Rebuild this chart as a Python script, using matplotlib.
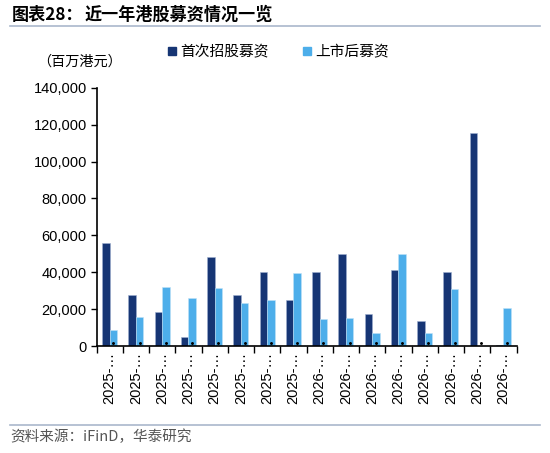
import numpy as np
import matplotlib.pyplot as plt
from matplotlib.lines import Line2D

plt.rcParams['font.family'] = ['Noto Sans CJK SC', 'DejaVu Sans']

# 数据（百万港元）
labels = ['2025-…'] * 8 + ['2026-…'] * 8
ipo = [56000, 27500, 18400, 4700, 48200, 27500, 40300, 24900,
       40300, 49900, 17200, 41000, 13400, 40000, 115600, 300]
follow_on = [8800, 15500, 32000, 26200, 31300, 23300, 24900, 39600,
             14500, 15000, 6900, 50000, 6900, 30700, 0, 20400]
dot_vals = [1600] * 16
yticks = [0, 20000, 40000, 60000, 80000, 100000, 120000, 140000]

c_dark = '#163574'
c_light = '#4daeea'

fig = plt.figure(figsize=(5.5, 4.53), dpi=100)
ax = fig.add_axes([96.5/550, 1-346/453, 420/550, (346-87.7)/453])

x = np.arange(len(labels))
w = 0.29
ax.bar(x - w/2, ipo, w, color=c_dark, edgecolor='#9fb0cf', linewidth=0.4)
ax.bar(x + w/2, follow_on, w, color=c_light, edgecolor='#bfe2f7', linewidth=0.4)
ax.scatter(x + w/2, dot_vals, s=1.2, color='black', zorder=3)

ax.set_xlim(-0.5, len(labels) - 0.5)
ax.set_ylim(0, 140000)
ax.set_yticks(yticks)
ax.set_yticklabels([f'{v:,}' for v in yticks], family='Liberation Sans', fontsize=10.5)
ax.tick_params(axis='y', direction='out', length=4, width=1, pad=3)

ax.set_xticks(x)
ax.set_xticklabels(labels, rotation=90, family=['Liberation Sans', 'DejaVu Sans'], fontsize=10.5)
ax.set_xticks(np.arange(-0.5, len(labels)), minor=True)
ax.tick_params(axis='x', which='major', length=0, pad=4)
ax.tick_params(axis='x', which='minor', length=5, width=1, direction='out')

ax.spines['top'].set_visible(False)
ax.spines['right'].set_visible(False)
ax.spines['left'].set_linewidth(1.2)
ax.spines['bottom'].set_linewidth(1.2)

# 图例
handles = [Line2D([], [], marker='s', linestyle='none', color=c_dark, markersize=6),
           Line2D([], [], marker='s', linestyle='none', color=c_light, markersize=6)]
fig.legend(handles, ['首次招股募资', '上市后募资'], loc='center left',
           bbox_to_anchor=(168/550, 1-52/453), ncol=2, frameon=False,
           fontsize=10.6, handlelength=0.5, handletextpad=0.3, columnspacing=2.4,
           borderaxespad=0, borderpad=0)

fig.text(37/550, 1-62/453, '（百万港元）', fontsize=10.2, va='center', ha='left')

# 标题与来源
fig.text(12/550, 1-15/453, '图表28：', fontsize=12.3, fontweight='bold', va='center', ha='left')
fig.text(85/550, 1-15/453, '近一年港股募资情况一览', fontsize=12.3, fontweight='bold', va='center', ha='left')
fig.add_artist(Line2D([10/550, 540/550], [1-26/453, 1-26/453], color='#aab8cc', linewidth=1.2))
fig.add_artist(Line2D([10/550, 540/550], [1-425/453, 1-425/453], color='#aab8cc', linewidth=1.2))
fig.text(10/550, 1-437/453, '资料来源：iFinD，华泰研究', fontsize=10.5, color='#555555', va='center', ha='left')

plt.savefig('out.png', dpi=100)
